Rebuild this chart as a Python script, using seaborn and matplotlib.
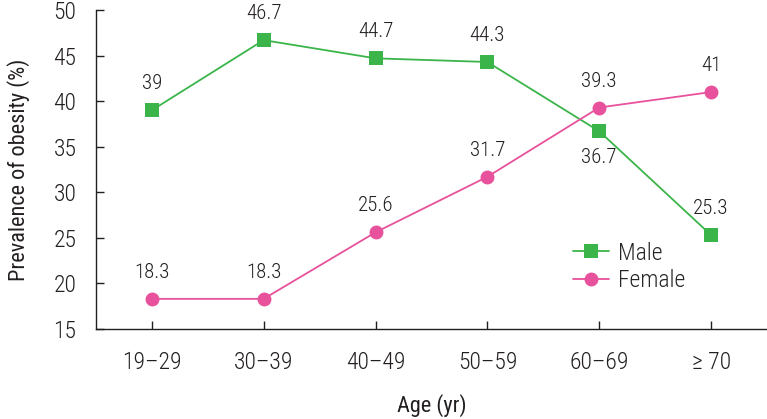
import matplotlib
matplotlib.use("Agg")
import matplotlib.pyplot as plt
import seaborn as sns
import pandas as pd
from matplotlib import font_manager

ages = ["19\u201329", "30\u201339", "40\u201349", "50\u201359", "60\u201369", "\u2265 70"]
male = [39, 46.7, 44.7, 44.3, 36.7, 25.3]
female = [18.3, 18.3, 25.6, 31.7, 39.3, 41]
male_labels = ["39", "46.7", "44.7", "44.3", "36.7", "25.3"]
female_labels = ["18.3", "18.3", "25.6", "31.7", "39.3", "41"]

sns.set_theme(style="ticks")
names = {f.name for f in font_manager.fontManager.ttflist}
fam = "DejaVu Sans"
for cand in ["Roboto Condensed", "Archivo Narrow", "Barlow Condensed", "Asap Condensed", "Liberation Sans Narrow", "Liberation Sans"]:
    if cand in names:
        fam = cand
        break
plt.rcParams['font.family'] = [fam, 'DejaVu Sans']
plt.rcParams['font.weight'] = 'light' if fam == "Roboto Condensed" else 'normal'

df = pd.DataFrame({
    "pos": list(range(len(ages))) * 2,
    "val": male + female,
    "sex": ["Male"] * len(ages) + ["Female"] * len(ages),
})

green = "#3bb54a"
pink = "#e8519b"
tc = "#231f20"

fig = plt.figure(figsize=(7.67, 4.19), dpi=100)
ax = fig.add_axes([0.125, 0.215, 0.875, 0.761])
sns.lineplot(data=df, x="pos", y="val", hue="sex", style="sex",
             markers={"Male": "s", "Female": "o"}, dashes=False,
             palette={"Male": green, "Female": pink}, markersize=10,
             markeredgewidth=0, linewidth=1.3, ax=ax)

for i, (v, t) in enumerate(zip(male, male_labels)):
    off = -2.9 if i == 4 else 2.9
    ax.text(i, v + off, t, ha="center", va="center", fontsize=15, color=tc)
for i, (v, t) in enumerate(zip(female, female_labels)):
    ax.text(i, v + 2.9, t, ha="center", va="center", fontsize=15, color=tc)

ax.set_xlim(-0.5, 5.5)
ax.set_ylim(15, 50)
ax.set_yticks(range(15, 51, 5))
ax.set_xticks(range(len(ages)))
ax.set_xticklabels(ages)
ax.tick_params(axis="both", direction="in", length=6, labelsize=17, colors=tc, width=1)
ax.tick_params(axis="y", pad=14)
ax.tick_params(axis="x", pad=16)
for s in ["top", "right"]:
    ax.spines[s].set_visible(False)
for s in ["left", "bottom"]:
    ax.spines[s].set_color(tc)
    ax.spines[s].set_linewidth(1)
ax.set_xlabel("Age (yr)", fontsize=16, color=tc, labelpad=14)
ax.set_ylabel("Prevalence of obesity (%)", fontsize=16, color=tc, labelpad=17)

leg = ax.legend(loc="upper left", bbox_to_anchor=(0.68, 0.34), frameon=False,
                fontsize=17, handlelength=1.5, handletextpad=0.4, labelspacing=0.2)

fig.savefig("out.png", dpi=100)
